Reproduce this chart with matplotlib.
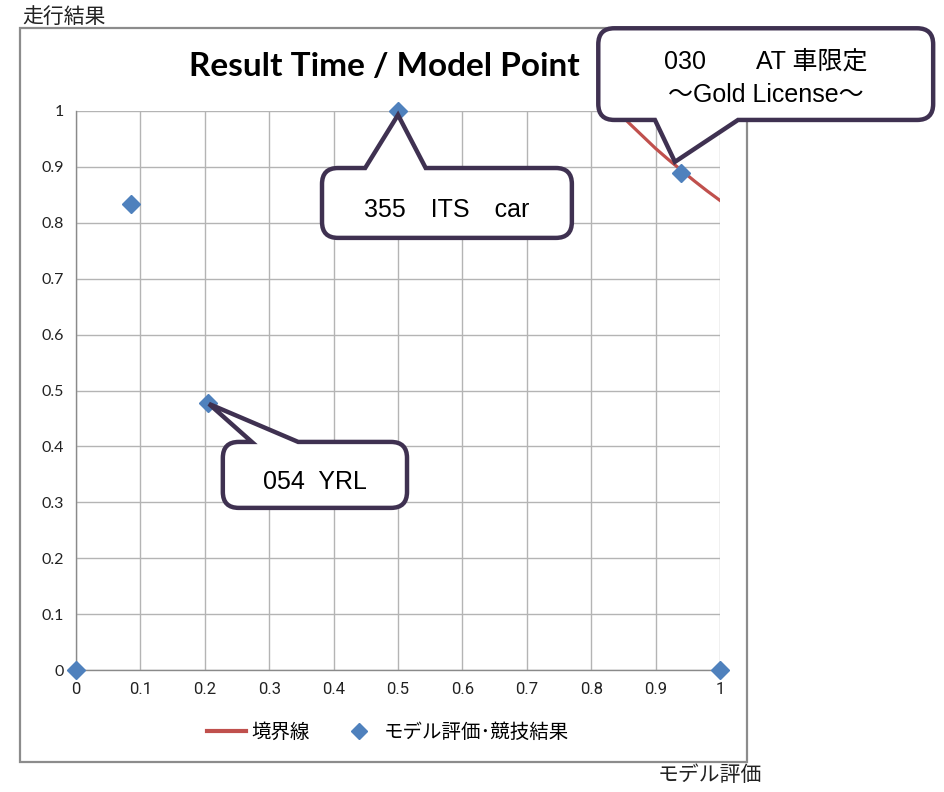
import matplotlib
matplotlib.use("Agg")
import matplotlib.pyplot as plt
from matplotlib.path import Path
from matplotlib.patches import PathPatch, Rectangle
from matplotlib.lines import Line2D
from matplotlib.transforms import IdentityTransform

# ---------------- data ----------------
model_eval = [0.0, 0.085, 0.205, 0.5, 0.94, 1.0]
result_val = [0.0, 0.833, 0.477, 1.0, 0.889, 0.0]

boundary_x = [0.84, 0.86, 0.88, 0.90, 0.92, 0.94, 0.96, 0.98, 1.00]
boundary_y = [1.00, 0.977, 0.955, 0.933, 0.913, 0.894, 0.875, 0.857, 0.84]

x_ticks = [0, 0.1, 0.2, 0.3, 0.4, 0.5, 0.6, 0.7, 0.8, 0.9, 1.0]
x_tick_labels = ["0", "0.1", "0.2", "0.3", "0.4", "0.5", "0.6", "0.7", "0.8", "0.9", "1"]
y_ticks = [0, 0.1, 0.2, 0.3, 0.4, 0.5, 0.6, 0.7, 0.8, 0.9, 1.0]
y_tick_labels = ["0", "0.1", "0.2", "0.3", "0.4", "0.5", "0.6", "0.7", "0.8", "0.9", "1"]

title = "Result Time / Model Point"
series_line = "境界線"
series_points = "モデル評価･競技結果"
y_label = "走行結果"
x_label = "モデル評価"

# callouts: (text lines, box x0, x1, y_bottom, y_top, base xa, xb, tip x, tip y, side)
callouts = [
    (["355　ITS　car"], 0.382, 0.770, 0.773, 0.898, 0.449, 0.543, 0.5, 0.993, "top"),
    (["054  YRL"], 0.228, 0.514, 0.290, 0.408, 0.273, 0.345, 0.2065, 0.476, "top"),
    (["030　　AT 車限定", "～Gold License～"], 0.811, 1.331, 0.984, 1.148, 0.899, 1.028, 0.930, 0.909, "bottom"),
]

CJK = ["Noto Sans CJK JP", "DejaVu Sans"]
LATIN_CJK = ["Liberation Sans", "Noto Sans CJK JP", "DejaVu Sans"]
plt.rcParams["font.family"] = CJK

W, H, DPI = 944, 792, 100
fig = plt.figure(figsize=(W / DPI, H / DPI), dpi=DPI)
ax = fig.add_axes([76 / W, 1 - 670 / H, (720 - 76) / W, (670 - 111) / H])

# chart border
fig.patches.append(Rectangle((20 / W, 1 - 762 / H), (747 - 20) / W, (762 - 28) / H,
                             transform=fig.transFigure, fill=False,
                             edgecolor="#8c8c8c", linewidth=1.6, zorder=0))

ax.set_xlim(0, 1)
ax.set_ylim(0, 1)
ax.set_xticks(x_ticks)
ax.set_yticks(y_ticks)
ax.set_xticklabels(x_tick_labels, family=["Liberation Sans Narrow", "Roboto", "DejaVu Sans"],
                   fontsize=12, color="#222222")
ax.set_yticklabels(y_tick_labels, family=["Lato", "DejaVu Sans"], fontsize=11.5,
                   color="#222222")
ax.tick_params(length=0, pad=9)
ax.grid(True, color="#b4b4b4", linewidth=1.0)
ax.set_axisbelow(True)
for s in ["top", "right"]:
    ax.spines[s].set_visible(False)
for s in ["left", "bottom"]:
    ax.spines[s].set_color("#8a8a8a")
    ax.spines[s].set_linewidth(1.0)

ax.plot(boundary_x, boundary_y, color="#c0504d", linewidth=2.3, zorder=3)
ax.plot(model_eval, result_val, linestyle="none", marker="D", markersize=9.5,
        color="#4f81bd", markeredgecolor="#4f81bd", clip_on=False, zorder=4)

fig.text(384 / W, 1 - 67 / H, title, ha="center", va="center",
         family=["Lato", "DejaVu Sans"], fontweight="bold", fontsize=24, color="#000000")
fig.text(22 / W, 1 - 17 / H, y_label, ha="left", va="center", fontsize=15, color="#222222")
fig.text(762 / W, 1 - 775 / H, x_label, ha="right", va="center", fontsize=15, color="#222222")

# legend
h1 = Line2D([], [], color="#c0504d", linewidth=3)
h2 = Line2D([], [], linestyle="none", marker="D", markersize=8, color="#4f81bd")
fig.legend([h1, h2], [series_line, series_points], loc="center",
           bbox_to_anchor=(388 / W, 1 - 732 / H), ncol=2, frameon=False,
           fontsize=14, handlelength=2.0, columnspacing=1.5, handletextpad=0.3)

fig.canvas.draw()


def callout_path(x0, x1, y0, y1, xa, xb, tx, ty, side, r=16):
    P0 = ax.transData.transform((x0, y0))
    P1 = ax.transData.transform((x1, y1))
    X0, Y0 = P0
    X1, Y1 = P1
    XA = ax.transData.transform((xa, 0))[0]
    XB = ax.transData.transform((xb, 0))[0]
    TX, TY = ax.transData.transform((tx, ty))
    v, c = [], []
    v.append((X0 + r, Y0)); c.append(Path.MOVETO)
    if side == "bottom":
        v += [(XA, Y0), (TX, TY), (XB, Y0)]; c += [Path.LINETO] * 3
    v.append((X1 - r, Y0)); c.append(Path.LINETO)
    v += [(X1, Y0), (X1, Y0 + r)]; c += [Path.CURVE3, Path.CURVE3]
    v.append((X1, Y1 - r)); c.append(Path.LINETO)
    v += [(X1, Y1), (X1 - r, Y1)]; c += [Path.CURVE3, Path.CURVE3]
    if side == "top":
        v += [(XB, Y1), (TX, TY), (XA, Y1)]; c += [Path.LINETO] * 3
    v.append((X0 + r, Y1)); c.append(Path.LINETO)
    v += [(X0, Y1), (X0, Y1 - r)]; c += [Path.CURVE3, Path.CURVE3]
    v.append((X0, Y0 + r)); c.append(Path.LINETO)
    v += [(X0, Y0), (X0 + r, Y0)]; c += [Path.CURVE3, Path.CURVE3]
    v.append((X0 + r, Y0)); c.append(Path.CLOSEPOLY)
    return Path(v, c), ((X0 + X1) / 2, (Y0 + Y1) / 2)


for lines, x0, x1, y0, y1, xa, xb, tx, ty, side in callouts:
    path, (cx, cy) = callout_path(x0, x1, y0, y1, xa, xb, tx, ty, side)
    patch = PathPatch(path, facecolor="white", edgecolor="#3f3151", linewidth=3.2,
                      transform=IdentityTransform(), zorder=10, joinstyle="miter")
    fig.patches.append(patch)
    n = len(lines)
    step = 33
    offset = 7 if n == 1 else 4
    for i, line in enumerate(lines):
        yy = cy - offset + (n - 1) * step / 2 - i * step
        fig.text(cx / W, yy / H, line, ha="center", va="center", fontsize=18,
                 family=LATIN_CJK, color="#000000", zorder=11)

fig.savefig("out.png", dpi=DPI)
